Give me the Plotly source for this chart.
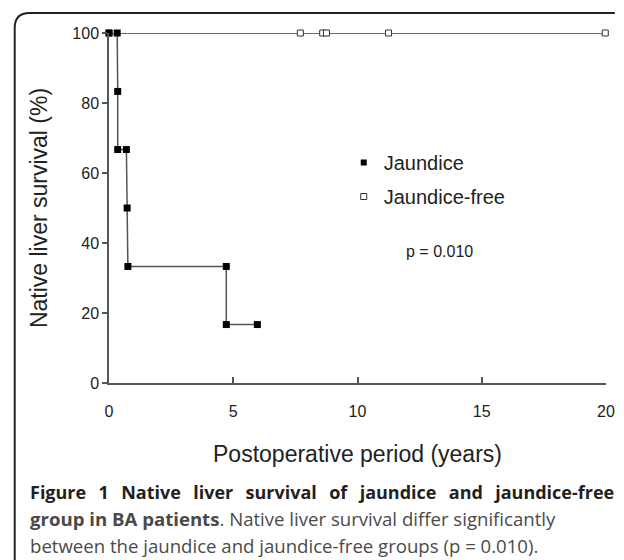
import plotly.graph_objects as go

# ---- data ----
jaundice_years = [0, 0.33, 0.35, 0.35, 0.7, 0.73, 0.76, 4.72, 4.72, 5.97]
jaundice_surv = [100, 100, 83.3, 66.7, 66.7, 50, 33.3, 33.3, 16.7, 16.7]
free_years = [0, 7.7, 8.6, 8.75, 11.25, 19.97]
free_surv = [100, 100, 100, 100, 100, 100]
x_ticks = [0, 5, 10, 15, 20]
y_ticks = [0, 20, 40, 60, 80, 100]
series_names = ["Jaundice", "Jaundice-free"]
p_text = "p = 0.010"
JUST = " \u00a0\u2009"  # widened word gap to mimic the justified first caption line
caption_lines = [
    "<b>" + JUST.join("Figure 1 Native liver survival of jaundice and jaundice-free".split(" ")) + "</b>",
    "<b>group in BA patients</b>. Native liver survival differ significantly",
    "between the jaundice and jaundice-free groups (p = 0.010).",
]

# ---- layout geometry (page pixels; page body has an 8px margin) ----
OFF = 8
PAGE_W, PAGE_H = 624, 560
W, H = PAGE_W - OFF, PAGE_H - OFF
L, R, T, B = 109, 615, 33, 383  # plot area in page pixels


def px(x):
    return (x - L) / (R - L)


def py(y):
    return (B - y) / (B - T)


fig = go.Figure()

fig.add_trace(go.Scatter(
    x=free_years, y=free_surv, mode="lines+markers", showlegend=False,
    line=dict(color="#3a3a3a", width=1.5),
    marker=dict(symbol="square", size=6, color="white", line=dict(color="#333", width=1)),
    cliponaxis=False,
))
fig.add_trace(go.Scatter(
    x=jaundice_years, y=jaundice_surv, mode="lines+markers", showlegend=False,
    line=dict(color="#555", width=1.5),
    marker=dict(symbol="square", size=7, color="black", line=dict(width=0)),
    cliponaxis=False,
))
# legend entries (markers only)
fig.add_trace(go.Scatter(
    x=[None], y=[None], mode="markers", name=series_names[0], legendgroup="a",
    marker=dict(symbol="square", size=6, color="black"),
))
fig.add_trace(go.Scatter(
    x=[None], y=[None], mode="markers", name=series_names[1], legendgroup="b",
    marker=dict(symbol="square", size=6, color="white", line=dict(color="#333", width=1)),
))

fig.update_layout(
    width=W, height=H,
    margin=dict(l=L - OFF, r=PAGE_W - R, t=T - OFF, b=PAGE_H - B, pad=0),
    paper_bgcolor="white", plot_bgcolor="white",
    font=dict(family="Arial, Liberation Sans, sans-serif", color="#222"),
    legend=dict(
        x=px(348), y=py(143), xanchor="left", yanchor="top",
        bgcolor="rgba(0,0,0,0)", font=dict(size=20, color="#222"),
        tracegroupgap=5, itemclick=False,
    ),
    xaxis=dict(
        range=[0, 20], tickvals=x_ticks, ticks="inside", ticklen=6, tickwidth=1.5,
        tickcolor="#555", showline=True, linecolor="#555", linewidth=1.5,
        showgrid=False, zeroline=False, tickfont=dict(size=16, color="#222"),
        ticklabelstandoff=13,
        title=dict(text="Postoperative period (years)", font=dict(size=23, color="#222"), standoff=27),
    ),
    yaxis=dict(
        range=[0, 100], tickvals=y_ticks, ticks="outside", ticklen=5, tickwidth=1.5,
        tickcolor="#555", showline=True, linecolor="#555", linewidth=1.5,
        showgrid=False, zeroline=False, tickfont=dict(size=16, color="#222"),
        title=dict(text="Native liver survival (%)", font=dict(size=23, color="#222"), standoff=18),
    ),
    shapes=[dict(
        type="path", xref="paper", yref="paper",
        path=(f"M {px(13)},{py(560)} L {px(13)},{py(28)} "
              f"Q {px(13)},{py(13)} {px(28)},{py(13)} L {px(624)},{py(13)}"),
        line=dict(color="#222", width=2),
    )],
)

fig.add_annotation(
    text=p_text, xref="paper", yref="paper", x=px(445), y=py(252),
    xanchor="center", yanchor="middle", showarrow=False,
    font=dict(size=16, color="#222"),
)

cap_y = [492, 518, 545]
for i, line in enumerate(caption_lines):
    fig.add_annotation(
        text=line, xref="paper", yref="paper", x=px(27), y=py(cap_y[i]),
        xanchor="left", yanchor="middle", showarrow=False,
        font=dict(family="Open Sans, sans-serif", size=18 if i == 0 else 18.6,
                  color="#231f20" if i == 0 else "#4a4a4a"),
    )

fig.write_html("out.html")
